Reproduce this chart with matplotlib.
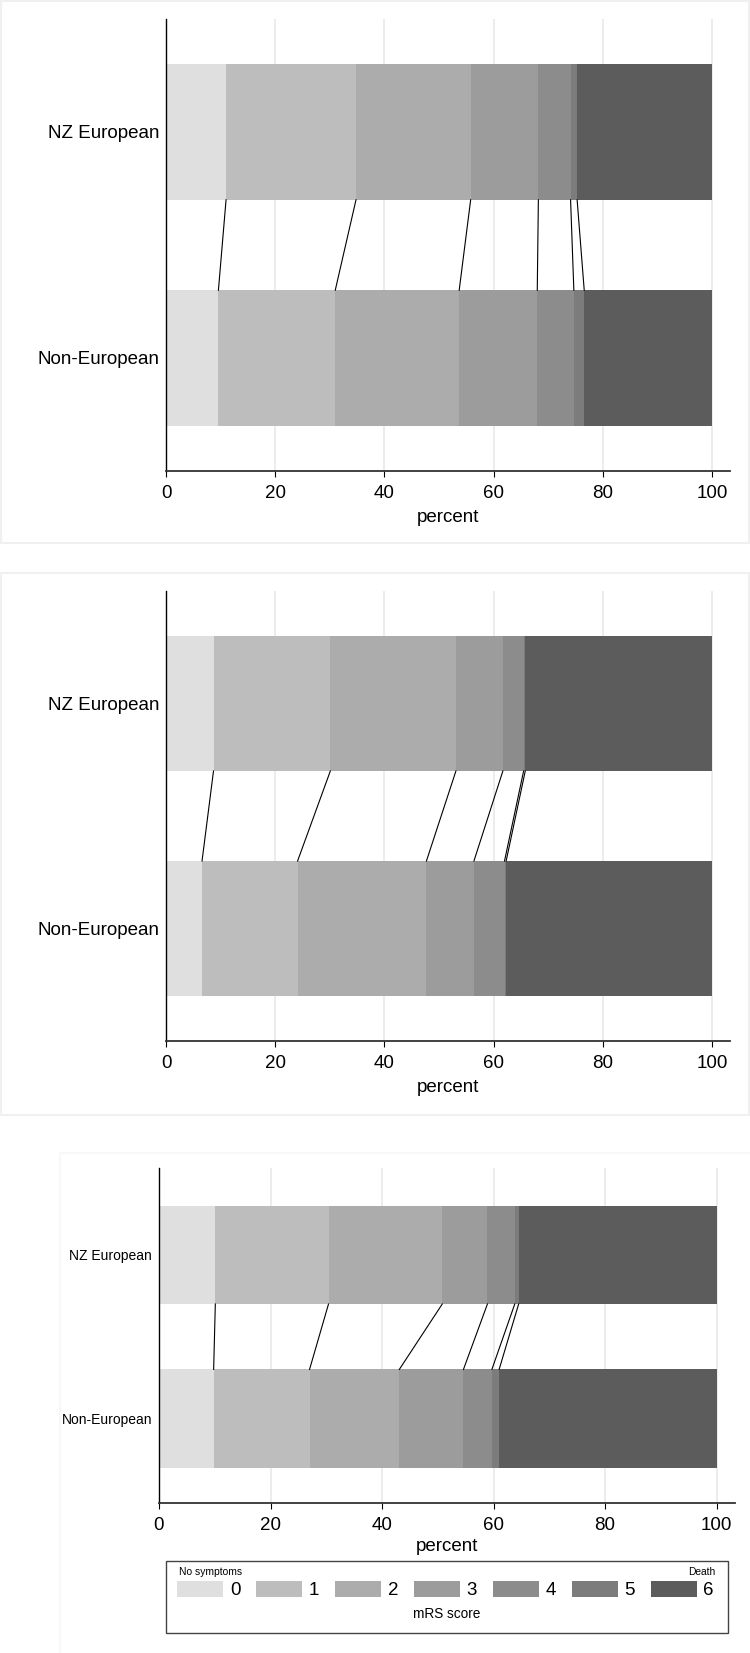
import matplotlib
matplotlib.use('Agg')
import matplotlib.pyplot as plt
from matplotlib.patches import Rectangle
import numpy as np

plt.rcParams['font.family'] = ['Liberation Sans', 'DejaVu Sans']

# mRS score shares (percent), order 0..6
groups = ['Non-European', 'NZ European']
scores = ['0', '1', '2', '3', '4', '5', '6']
colors = ['#dfdfdf', '#bdbdbd', '#acacac', '#9c9c9c', '#8c8c8c', '#7c7c7c', '#5c5c5c']

p1_nzeu = [11.0, 23.8, 21.0, 12.4, 5.9, 1.2, 24.7]
p1_noneu = [9.6, 21.4, 22.7, 14.3, 6.7, 1.9, 23.4]
p2_nzeu = [8.7, 21.4, 23.0, 8.6, 3.8, 0.3, 34.2]
p2_noneu = [6.6, 17.5, 23.6, 8.7, 5.6, 0.3, 37.7]
p3_nzeu = [10.1, 20.3, 20.4, 8.1, 4.9, 0.7, 35.5]
p3_noneu = [9.8, 17.2, 16.1, 11.5, 5.1, 1.3, 39.0]

W, H = 750, 1653
fig = plt.figure(figsize=(W / 100, H / 100), dpi=100)


def box(l, t, r, b):
    return [l / W, 1 - b / H, (r - l) / W, (b - t) / H]


# faint panel frames
for (l, t, r, b, c) in [(1, 1, 749, 543, '#f0f0f0'), (1, 573, 749, 1115, '#f0f0f0'),
                        (60, 1153, 751, 1654, '#f8f8f8')]:
    fig.add_artist(Rectangle((l / W, 1 - b / H), (r - l) / W, (b - t) / H,
                             transform=fig.transFigure, fill=False, edgecolor=c, lw=1.5))


def panel(rect, nzeu, noneu, ylab_size, ylim, xlab_y):
    ax = fig.add_axes(rect)
    data = [noneu, nzeu]
    conts = []
    for gi, vals in enumerate(data):
        left = np.concatenate([[0], np.cumsum(vals)[:-1]])
        c = ax.barh([gi] * len(vals), vals, left=left, height=0.6, color=colors, zorder=2)
        conts.append(c)
    # connecting lines between category boundaries
    cum_top = np.cumsum(nzeu)[:-1]
    cum_bot = np.cumsum(noneu)[:-1]
    for a, b in zip(cum_top, cum_bot):
        ax.plot([a, b], [1 - 0.3, 0 + 0.3], color='black', lw=0.8, zorder=3)
    ax.set_xlim(0, 103.3)
    ax.set_ylim(*ylim)
    ax.set_xticks([0, 20, 40, 60, 80, 100])
    ax.set_yticks([0, 1])
    ax.set_yticklabels(groups, fontsize=ylab_size)
    ax.tick_params(axis='y', length=0, pad=5)
    ax.tick_params(axis='x', length=4.5, width=0.8, pad=5.5, labelsize=13.5)
    ax.grid(axis='x', color='#e9e9e9', lw=1.2, zorder=0)
    ax.set_axisbelow(True)
    for s in ['top', 'right']:
        ax.spines[s].set_visible(False)
    ax.spines['left'].set_linewidth(1.0)
    ax.spines['bottom'].set_linewidth(1.3)
    ax.spines['bottom'].set_color('#333333')
    ax.set_xlabel('percent', fontsize=13.5)
    ax.xaxis.set_label_coords(0.5, xlab_y)
    return ax, conts


panel(box(166, 19, 730, 471), p1_nzeu, p1_noneu, 13.5, (-0.5, 1.5), -0.084)
panel(box(166, 591, 730, 1041), p2_nzeu, p2_noneu, 13.5, (-0.5, 1.5), -0.084)
ax3, conts = panel(box(159, 1168, 735, 1503), p3_nzeu, p3_noneu, 10, (-0.517, 1.532), -0.105)

# legend
handles = [conts[0].patches[i] for i in range(len(scores))]
fig.legend(handles, scores, ncol=7, loc='center', bbox_to_anchor=(445.5 / W, 1 - 1590 / H),
           frameon=False, fontsize=13.5, handlelength=2.45, handleheight=1.0,
           handletextpad=0.35, columnspacing=0.85, borderpad=0, borderaxespad=0)
fig.add_artist(Rectangle((166 / W, 1 - 1633 / H), (728 - 166) / W, (1633 - 1561) / H,
                         transform=fig.transFigure, fill=False, edgecolor='#444444', lw=1.0))
fig.text(179 / W, 1 - 1572 / H, 'No symptoms', fontsize=7.4, va='center', ha='left')
fig.text(715 / W, 1 - 1572 / H, 'Death', fontsize=7.4, va='center', ha='right')
fig.text(447 / W, 1 - 1614 / H, 'mRS score', fontsize=9.8, va='center', ha='center')

fig.savefig('out.png', dpi=100)
